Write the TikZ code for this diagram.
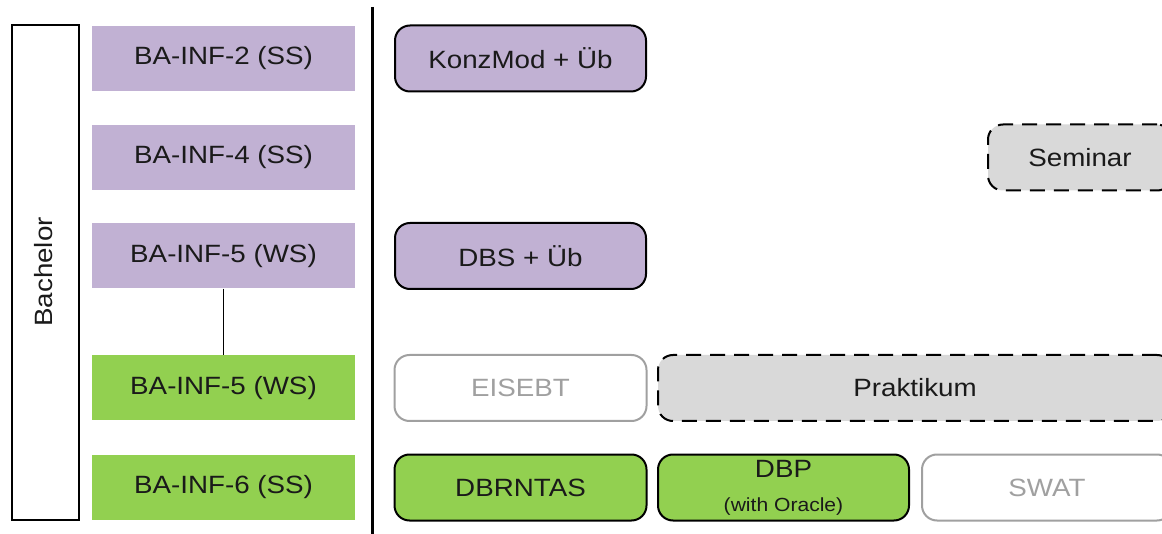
\documentclass[tikz,border=0pt]{standalone}
\usepackage{fontspec}
\setmainfont{Liberation Sans}[FakeStretch=1.11]
\newcommand\lblfont{\fontsize{25}{30}\selectfont}
\newcommand\notefont{\fontsize{19}{22}\selectfont}
\definecolor{lavender}{RGB}{193,177,211}
\definecolor{leaf}{RGB}{146,208,80}
\definecolor{paleg}{RGB}{217,217,217}
\definecolor{mutedg}{RGB}{160,160,160}
\definecolor{ink}{RGB}{26,26,26}
\begin{document}
\begin{tikzpicture}[x=1pt,y=-1pt,
  every node/.style={inner sep=0pt, text=ink, font=\lblfont},
  term/.style={rectangle, minimum width=263pt, minimum height=65pt},
  termB/.style={term, fill=lavender},
  termG/.style={term, fill=leaf},
  course/.style={rectangle, rounded corners=15pt, line width=2pt, minimum height=66pt},
  courseB/.style={course, draw=black, fill=lavender},
  courseG/.style={course, draw=black, fill=leaf},
  optional/.style={course, draw=mutedg, fill=white, text=mutedg},
  elective/.style={course, draw=black, fill=paleg, dash pattern=on 15pt off 9pt},
]
\useasboundingbox (0,0) rectangle (1162,534);
\clip (0,0) rectangle (1162,534);

% degree label
\node[draw=black, line width=2pt, minimum width=67pt, minimum height=495pt] (ba) at (45.5,272.5) {};
\node[rotate=90] (balabel) at (44,272) {Bachelor};

% terms
\node[termB] (t2) at (223.5,58.5) {BA-INF-2 (SS)};
\node[termB] (t4) at (223.5,157.5) {BA-INF-4 (SS)};
\node[termB] (t5a) at (223.5,256) {BA-INF-5 (WS)};
\node[termG] (t5b) at (223.5,388) {BA-INF-5 (WS)};
\node[termG] (t6) at (223.5,487.5) {BA-INF-6 (SS)};
\draw[line width=1pt] (t5a.south) -- (t5b.north);

% separator
\coordinate (sepTop) at (372,7);
\coordinate (sepBot) at (372,534);
\draw[line width=3pt] (sepTop) -- (sepBot);

% courses
\node[courseB, minimum width=251pt] (konz) at (520.5,58.5) {KonzMod + Üb};
\node[elective, minimum width=184pt] (sem) at (1080,157.5) {Seminar};
\node[courseB, minimum width=251pt] (dbs) at (520.5,256) {DBS + Üb};
\node[optional, minimum width=252pt] (eis) at (520.5,388) {EISEBT};
\node[elective, minimum width=514pt] (prak) at (915,388) {Praktikum};
\node[courseG, minimum width=252pt] (dbr) at (520.5,487.5) {DBRNTAS};
\node[courseG, minimum width=251pt, align=center] (dbp) at (783.5,487.5) {DBP\\[4pt]{\notefont (with Oracle)}};
\node[optional, minimum width=250pt] (swat) at (1047,487.5) {SWAT};
\end{tikzpicture}
\end{document}
